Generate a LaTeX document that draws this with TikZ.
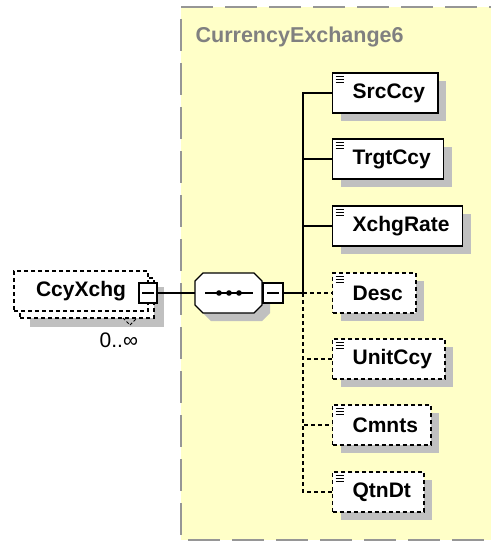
\documentclass[tikz,border=0pt]{standalone}
\usepackage{fontspec}
\setmainfont{Liberation Sans}
\usetikzlibrary{shadows}
\definecolor{frameyellow}{RGB}{255,255,200}
\definecolor{framegray}{RGB}{150,150,150}
\definecolor{shadegray}{RGB}{192,192,192}
\definecolor{titlegray}{RGB}{128,128,128}
\begin{document}
\begin{tikzpicture}[x=1pt, y=-1pt, line width=1.3pt,
		boxshadow/.style={drop shadow={shadow xshift=8pt, shadow yshift=-8pt, fill=shadegray, opacity=1}},
		elem/.style={draw, fill=white, boxshadow, anchor=west, minimum height=40pt, inner ysep=0pt, inner xsep=13pt,
			font=\fontsize{21}{24}\selectfont\bfseries, execute at begin node={\hspace*{7pt}},
			path picture={\foreach \k in {3,6,9} \draw[solid, line width=1pt] ([xshift=3pt, yshift=-\k pt]path picture bounding box.north west) -- +(8pt,0pt);}},
		opt/.style={elem, dash pattern=on 4pt off 3pt},
		optline/.style={dash pattern=on 4pt off 3pt},
		minus/.style={draw, fill=white, inner sep=0pt, minimum width=20pt, minimum height=20pt},
		ccybox/.style={draw, fill=white, dash pattern=on 4pt off 3pt, minimum width=134pt, minimum height=40pt, inner sep=0pt}]
	\useasboundingbox (0,0) rectangle (491,543);
	\fill[frameyellow] (181,7) rectangle (491,540);
	\draw[framegray, dash pattern=on 32pt off 12pt] (181,7) -- (491,7);
	\draw[framegray, dash pattern=on 32pt off 12pt, dash phase=32pt] (181,7) -- (181,540) -- (491,540);
	\node[anchor=base west, inner sep=0pt, text=titlegray, font=\fontsize{21.5}{24}\selectfont\bfseries] (title) at (195,43) {CurrencyExchange6};
	
	\node[ccybox, drop shadow={shadow xshift=10pt, shadow yshift=-9pt, fill=shadegray, opacity=1}] (ccyback) at (87,298) {};
	\draw[line width=1pt, dash pattern=on 3pt off 2pt] (123,318) -- (130,325) -- (137,318);
	\node[ccybox, font=\fontsize{21}{24}\selectfont\bfseries] (ccy) at (81,291) {CcyXchg};
	\node[minus, minimum width=18pt] (ccym) at (148,293) {\rule[-0.65pt]{12pt}{1.3pt}};
	\node[anchor=base west, inner sep=0pt, font=\fontsize{21}{24}\selectfont] (occurs) at (99,347) {0..∞};
	
	\draw[fill=white, boxshadow] (195,281) -- (203,273) -- (254,273) -- (262,281) -- (262,305) -- (254,313) -- (203,313) -- (195,305) -- cycle;
	\coordinate (seqw) at (195,293);
	\draw (205,293) -- (253,293);
	\foreach \x in {219,229,239} \fill (\x,293) circle (2.8pt);
	\node[minus] (seqm) at (273,293) {\rule[-0.65pt]{12pt}{1.3pt}};
	\coordinate (trunk) at (303,293);
	
	\node[elem] (src) at (332,93) {SrcCcy};
	\node[elem] (trgt) at (332,159) {TrgtCcy};
	\node[elem] (rate) at (332,226) {XchgRate};
	\node[opt] (desc) at (332,293) {Desc};
	\node[opt] (unit) at (332,359) {UnitCcy};
	\node[opt] (cmnts) at (332,425) {Cmnts};
	\node[opt] (qtn) at (332,492) {QtnDt};
	
	\draw (ccym.east) -- (seqw);
	\draw (seqm.east) -- (trunk);
	\foreach \n in {src,trgt,rate} \draw (trunk) |- (\n.west);
	\draw[optline] (trunk) -- (desc.west);
	\foreach \n in {unit,cmnts,qtn} \draw[optline] (trunk) |- (\n.west);
\end{tikzpicture}
\end{document}
